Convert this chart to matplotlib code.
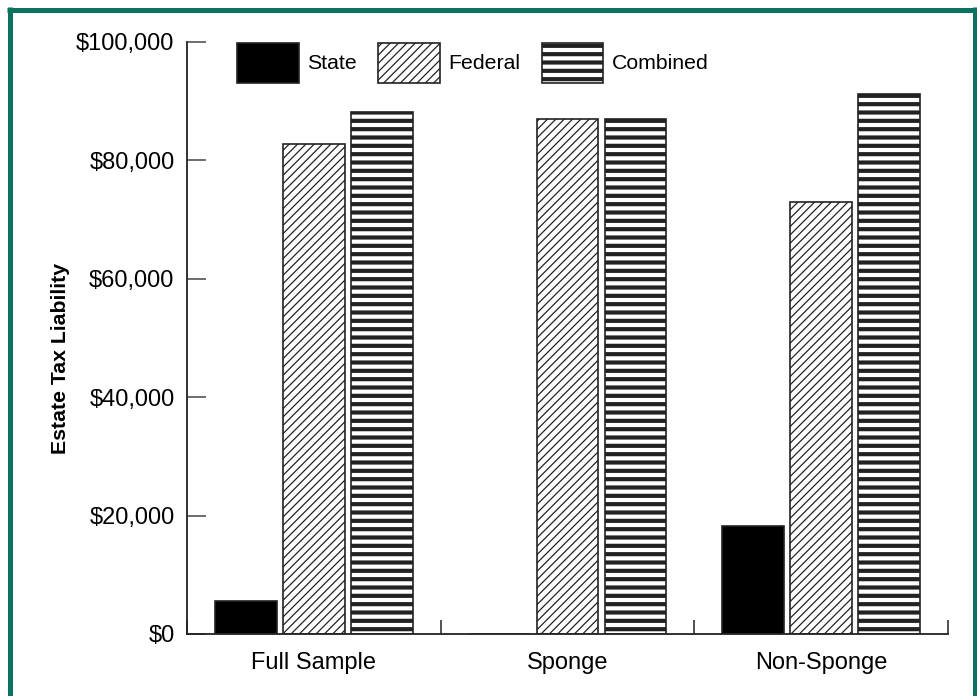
import numpy as np
import matplotlib
matplotlib.use("Agg")
import matplotlib.pyplot as plt
from matplotlib.lines import Line2D

plt.rcParams['font.family'] = ['Liberation Sans', 'DejaVu Sans']

# data
groups = ["Full Sample", "Sponge", "Non-Sponge"]
state = [5500, 0, 18300]
federal = [82800, 87000, 72900]
combined = [88200, 87000, 91200]
series_names = ["State", "Federal", "Combined"]
y_ticks = [0, 20000, 40000, 60000, 80000, 100000]

green = "#0b7262"

fig = plt.figure(figsize=(9.77, 6.96), dpi=100)
ax = fig.add_axes([187 / 977, 1 - 634 / 696, 761 / 977, 592 / 696])

x = np.arange(len(groups))
w = 0.244
off = 0.268


def thick_hatch(patches, lw):
    for p in patches:
        if hasattr(p, "set_hatch_linewidth"):
            p.set_hatch_linewidth(lw)


b1 = ax.bar(x - off, state, w, color="black", edgecolor="#222222", linewidth=1.2,
            label=series_names[0])
b2 = ax.bar(x, federal, w, color="white", edgecolor="#222222", linewidth=1.2,
            hatch="////", label=series_names[1])
b3 = ax.bar(x + off, combined, w, color="white", edgecolor="#222222", linewidth=1.2,
            hatch="--", label=series_names[2])
thick_hatch(b2, 0.9)
thick_hatch(b3, 3.0)

ax.set_xlim(-0.5, 2.5)
ax.set_ylim(0, 100000)
ax.set_yticks(y_ticks)
ax.set_yticklabels([f"${v:,.0f}" for v in y_ticks])

# ticks sit on the group boundaries, labels in the middle
ax.set_xticks([-0.5, 0.5, 1.5, 2.5])
ax.set_xticklabels([])
ax.set_xticks(x, minor=True)
ax.set_xticklabels(groups, minor=True)
ax.tick_params(axis="x", which="minor", length=0, labelsize=17, pad=13)
ax.tick_params(axis="x", which="major", direction="in", length=10, width=1.2,
               color="#333333")
ax.tick_params(axis="y", direction="in", length=13.5, width=1.2, color="#555555",
               labelsize=17, pad=9)

for s in ["top", "right"]:
    ax.spines[s].set_visible(False)
for s in ["left", "bottom"]:
    ax.spines[s].set_linewidth(1.3)
    ax.spines[s].set_color("#222222")

ax.set_ylabel("Estate Tax Liability", fontsize=15.3, fontweight="bold")
ax.yaxis.set_label_coords((70 - 187) / 761, 0.5 - 20 / 592)

leg = fig.legend(handles=[b1, b2, b3], labels=series_names, loc="upper left",
                 bbox_to_anchor=(237 / 977, 1 - 43 / 696), ncol=3, frameon=False,
                 fontsize=15.3, handlelength=2.9, handleheight=2.5,
                 handletextpad=0.4, columnspacing=1.0, borderpad=0,
                 borderaxespad=0)
handles = leg.legend_handles
thick_hatch([handles[1]], 0.9)
thick_hatch([handles[2]], 3.0)

# green frame
frame = dict(color=green, linewidth=3.6, solid_capstyle="butt",
             transform=fig.transFigure)
fig.add_artist(Line2D([9.5 / 977, 9.5 / 977], [0, 1 - 7 / 696], **frame))
fig.add_artist(Line2D([7 / 977, 1], [1 - 9.5 / 696, 1 - 9.5 / 696], **frame))
fig.add_artist(Line2D([975 / 977, 975 / 977], [0, 1 - 7 / 696], **frame))

fig.savefig("out.png", dpi=100)
